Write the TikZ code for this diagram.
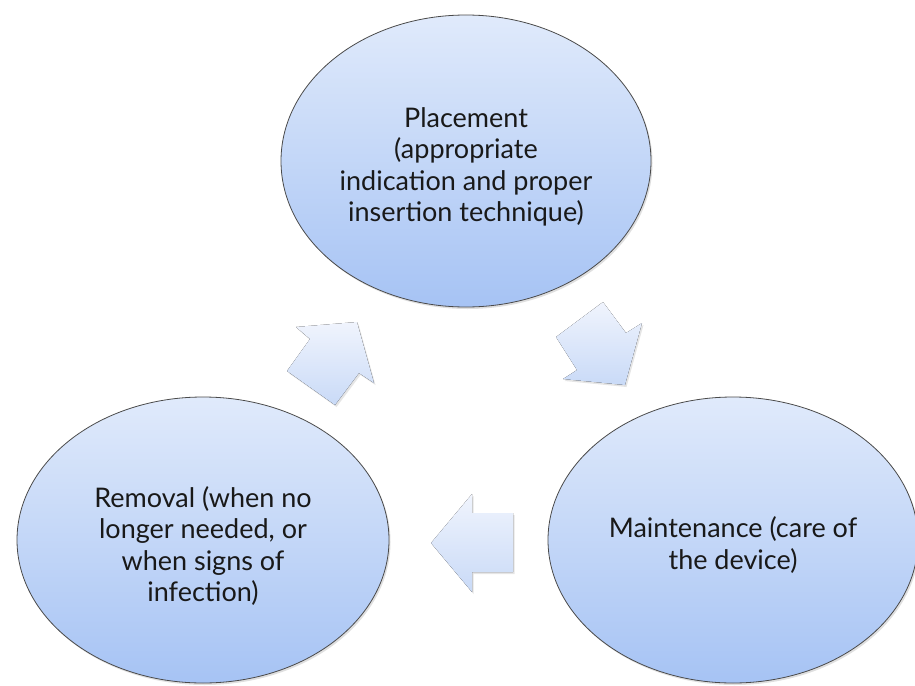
\documentclass[tikz,border=0pt]{standalone}
\usepackage{fontspec}
\setmainfont{Lato}
\usetikzlibrary{shapes.geometric,shadows}
\definecolor{elltop}{HTML}{E0EAFB}
\definecolor{ellbot}{HTML}{A6C3F4}
\definecolor{arrtop}{HTML}{F0F4FD}
\definecolor{arrbot}{HTML}{C9DAF7}
\definecolor{edge}{HTML}{4A4A4A}
\tikzset{
  phase/.style={ellipse, draw=edge, line width=0.8pt, top color=elltop, bottom color=ellbot,
    inner sep=0pt, drop shadow={opacity=0.25, shadow xshift=1.5pt, shadow yshift=-2pt}},
  phasetext/.style={align=center, font=\fontsize{27}{31.5}\selectfont, text=black!90, inner sep=0pt},
  blockarrow/.style={top color=arrtop, bottom color=arrbot,
    drop shadow={opacity=0.2, shadow xshift=1.5pt, shadow yshift=-2pt}}
}
\begin{document}
\begin{tikzpicture}[x=1pt,y=-1pt]
\useasboundingbox[fill=white] (0,0) rectangle (915,685);
\node[phase, minimum width=370pt, minimum height=292pt] (place) at (466,161) {};
\node[phase, minimum width=372pt, minimum height=286pt] (remove) at (203,540) {};
\node[phase, minimum width=370pt, minimum height=286pt] (maint) at (733,540) {};
\node[phasetext] (placetext) at ([yshift=-6pt]place.center)
  {Placement\\(appropriate\\indication and proper\\insertion technique)};
\node[phasetext] (removetext) at ([yshift=-6pt]remove.center)
  {Removal (when no\\longer needed, or\\when signs of\\infection)};
\node[phasetext] (mainttext) at ([yshift=-5pt]maint.center)
  {Maintenance (care of\\the device)};
% arrow: removal -> placement
\fill[blockarrow] (357,322) -- (374,383) -- (359,373) -- (335,405) -- (287,371) -- (310,339) -- (296,327) -- cycle;
% arrow: placement -> maintenance
\fill[blockarrow] (603,302) -- (626,333) -- (642,323) -- (625,385) -- (563,379) -- (577,370) -- (556,337) -- cycle;
% arrow: maintenance -> removal
\fill[blockarrow] (431,543) -- (472,494) -- (472,513) -- (513,513) -- (513,572) -- (472,572) -- (472,592) -- cycle;
\end{tikzpicture}
\end{document}
